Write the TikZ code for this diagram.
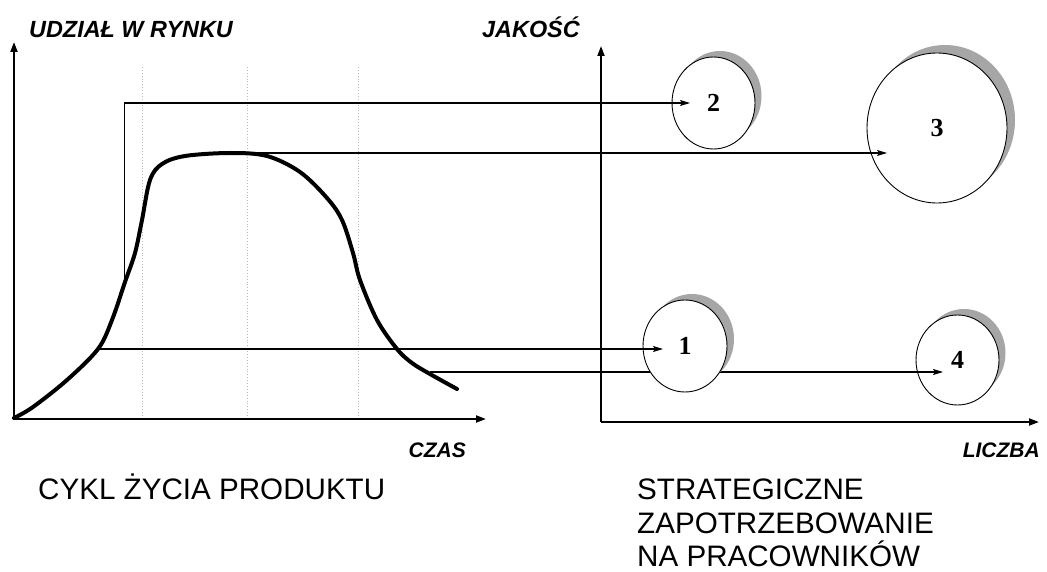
\documentclass[tikz,border=0pt]{standalone}
\usepackage{fontspec}
\setmainfont{Liberation Sans}
\newfontfamily\numfont{Liberation Serif}
\usetikzlibrary{arrows.meta,shapes.geometric}
\tikzset{
  axisline/.style={line width=1.9pt,-{Triangle[length=10pt,width=7pt]}},
  gridline/.style={gray!55,dotted,line width=0.9pt},
  curveline/.style={line width=4pt,line cap=round,line join=round},
  conn/.style={line width=1.1pt,-{Stealth[length=10pt,width=6pt,inset=2pt]}},
  bubble/.style={ellipse,draw,line width=0.9pt,fill=white,inner sep=0pt,
    font=\numfont\bfseries\fontsize{26}{30}\selectfont},
  bshadow/.style={ellipse,fill=gray!70,inner sep=0pt},
  axlabel/.style={font=\bfseries\itshape\fontsize{23.4}{28}\selectfont,inner sep=0pt},
  smlabel/.style={font=\bfseries\itshape\fontsize{21}{25}\selectfont,inner sep=0pt},
  title/.style={font=\fontsize{29.6}{35}\selectfont,inner sep=0pt,anchor=base west}
}
\begin{document}
\begin{tikzpicture}[x=1pt,y=-1pt]
\useasboundingbox (0,0) rectangle (1047,572);
% grid lines
\draw[gridline] (142,67) -- (142,419);
\draw[gridline] (247,67) -- (247,419);
\draw[gridline] (358,67) -- (358,419);
% axes left
\coordinate (o1) at (14,419);
\coordinate (yt1) at (14,42);
\coordinate (xt1) at (486,419);
\draw[axisline] (o1) -- (yt1);
\draw[axisline] (o1) -- (xt1);
% axes right
\coordinate (o2) at (601,422);
\coordinate (yt2) at (601,46);
\coordinate (xt2) at (1039,422);
\draw[axisline] (o2) -- (yt2);
\draw[axisline] (o2) -- (xt2);
% curve
\draw[curveline] plot[smooth,tension=0.55] coordinates {
 (14,418) (33,407) (67,380) (98,349) (112,320) (125,282) (135,253) (142,220)
 (150,180) (162,164) (185,156) (230,153) (267,156) (300,172) (327,198) (342,220)
 (353,253) (360,280) (377,320) (397,349) (412,363) (430,374) (457,389)};
\coordinate (p1) at (98,349);
\coordinate (p2) at (124.5,282);
\coordinate (k2) at (124.5,103);
\coordinate (p3) at (240,153);
\coordinate (p4) at (430,372);
% shadows
\node[bshadow,minimum width=83pt,minimum height=90pt] at (720,96) {};
\node[bshadow,minimum width=140pt,minimum height=150pt] at (945,120) {};
\node[bshadow,minimum width=83pt,minimum height=88pt] at (964,353) {};
% bubbles 2,3,4
\node[bubble,minimum width=83pt,minimum height=92pt] (c2) at (713.5,103) {2};
\node[bubble,minimum width=140pt,minimum height=150pt] (c3) at (937,128) {3};
\node[bubble,minimum width=83pt,minimum height=90pt] (c4) at (957.5,360) {4};
% connector to 4 (passes behind bubble 1)
\coordinate (t4) at (943,372);
\draw[conn] (p4) -- (t4);
% bubble 1
\node[bshadow,minimum width=84pt,minimum height=90pt] at (692,339) {};
\node[bubble,minimum width=84pt,minimum height=92pt] (c1) at (685,346) {1};
% other connectors
\coordinate (t1) at (663,349);
\coordinate (t2) at (690,103);
\coordinate (t3) at (887,153);
\draw[conn] (p1) -- (t1);
\draw[conn] (p2) -- (k2) -- (t2);
\draw[conn] (p3) -- (t3);
% labels
\node[axlabel,anchor=base west] (ly1) at (29,38) {UDZIAŁ W RYNKU};
\node[axlabel,anchor=base west] (ly2) at (482,38) {JAKOŚĆ};
\node[smlabel,anchor=base east] (lx1) at (466,457) {CZAS};
\node[smlabel,anchor=base east] (lx2) at (1040,457) {LICZBA};
\node[title] (t1l) at (38,499) {CYKL ŻYCIA PRODUKTU};
\node[title] (t2a) at (637,499) {STRATEGICZNE};
\node[title] (t2b) at (637,533) {ZAPOTRZEBOWANIE};
\node[title] (t2c) at (637,566) {NA PRACOWNIKÓW};
\end{tikzpicture}
\end{document}
